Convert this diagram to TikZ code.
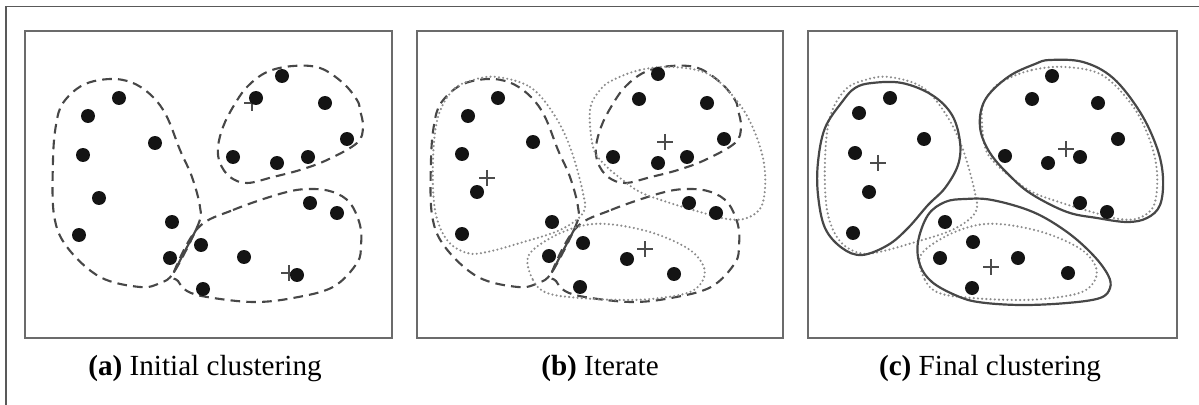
\documentclass[tikz,border=0pt]{standalone}
\usepackage{fontspec}
\setmainfont{Liberation Serif}
\newcommand\ShpAleft[1]{\draw[#1] plot[smooth cycle,tension=0.6] coordinates {(110,79) (133,83) (153,97) (167,117) (180,150) (192,177) (200,207) (198,225) (174,272) (160,283) (140,287) (100,277) (67,247) (54,215) (53,160) (56,125) (63,103) (83,85)};}
\newcommand\ShpAtop[1]{\draw[#1] plot[smooth cycle,tension=0.6] coordinates {(293,66) (320,68) (343,83) (357,100) (360,110) (363,127) (357,143) (327,160) (300,170) (273,177) (247,183) (230,177) (220,163) (218,147) (223,127) (233,107) (247,87) (267,72)};}
\newcommand\ShpAbot[1]{\draw[#1] plot[smooth cycle,tension=0.6] coordinates {(198,228) (233,210) (283,193) (310,189) (333,192) (350,203) (360,225) (361,245) (357,263) (333,287) (293,298) (253,302) (207,297) (187,291) (178,281) (174,272)};}
\newcommand\ShpBleft[1]{\draw[#1] plot[smooth cycle,tension=0.6] coordinates {(497,77) (530,87) (553,113) (570,147) (583,193) (583,213) (560,230) (520,243) (487,252) (467,253) (447,240) (435,210) (433,160) (438,117) (453,90) (473,80)};}
\newcommand\ShpBtop[1]{\draw[#1] plot[smooth cycle,tension=0.6] coordinates {(613,80) (640,70) (673,67) (710,75) (740,105) (757,138) (765,172) (762,205) (747,218) (727,219) (700,212) (667,202) (640,192) (620,178) (603,163) (593,147) (590,110) (600,90)};}
\newcommand\ShpBbot[1]{\draw[#1] plot[smooth cycle,tension=0.6] coordinates {(528,257) (533,280) (547,293) (580,298) (627,300) (660,298) (690,292) (703,280) (703,265) (687,248) (650,232) (607,224) (577,227) (547,240)};}
\begin{document}
\begin{tikzpicture}[x=0.02cm,y=-0.02cm,
  frameline/.style={draw=black!65,line width=0.9pt},
  panelbox/.style={draw=black!58,line width=1.4pt},
  olddash/.style={draw=black!72,line width=1.2pt,dash pattern=on 5.5pt off 3.5pt},
  newdot/.style={draw=black!45,line width=1.35pt,line cap=round,dash pattern=on 0pt off 2.4pt},
  finalline/.style={draw=black!72,line width=1.25pt},
  seg/.style={draw=black!72,line width=1.2pt},
  dot/.style={circle,fill=black!92,inner sep=0pt,minimum size=0.28cm},
  centstyle/.style={draw=black!70,line width=0.7pt},
  cent/.pic={\draw[centstyle] (-8,0)--(8,0) (0,-8)--(0,8);},
  caption/.style={anchor=base,font=\fontsize{16.6}{20}\selectfont,inner sep=0pt}]
\useasboundingbox (0,0) rectangle (1199,405);
% outer frame lines
\coordinate (ftl) at (6,6.5);
\coordinate (ftr) at (1199,6.5);
\coordinate (fbl) at (6,405);
\draw[frameline] (ftr) -- (ftl) -- (fbl);
% panel boxes
\draw[panelbox] (25,31) rectangle (392,338);
\draw[panelbox] (417,31) rectangle (783,338);
\draw[panelbox] (808,31) rectangle (1177,338);
% ---------- panel (a)
\ShpAleft{olddash}
\ShpAtop{olddash}
\ShpAbot{olddash}
\coordinate (sa1) at (198,226);
\coordinate (sa2) at (174,272);
\draw[seg] (sa1) -- (sa2);
\pic at (252,103) {cent};
\pic at (289,273) {cent};
\foreach \px/\py [count=\i] in {119/98,88/116,155/143,83/155,99/198,79/235,172/222,170/258,282/76,256/98,325/103,347/139,233/157,277/163,308/157,310/203,337/213,201/245,244/257,297/275,203/289}
  \node[dot] (a\i) at (\px,\py) {};
% ---------- panel (b)
\begin{scope}[shift={(378,0)}]
\ShpAleft{olddash}
\ShpAtop{olddash}
\ShpAbot{olddash}
\coordinate (sb1) at (198,226);
\coordinate (sb2) at (174,272);
\draw[seg] (sb1) -- (sb2);
\end{scope}
\ShpBleft{newdot}
\ShpBtop{newdot}
\ShpBbot{newdot}
\pic at (487,178) {cent};
\pic at (645,249) {cent};
\pic at (665,142) {cent};
\foreach \px/\py [count=\i] in {498/98,468/116,533/142,462/154,477/192,462/234,552/222,549/256,583/243,580/287,627/259,674/274,658/74,639/99,707/103,724/139,613/157,658/163,687/157,689/203,716/213}
  \node[dot] (b\i) at (\px,\py) {};
% ---------- panel (c)
\begin{scope}[shift={(392,0)}]
\ShpBleft{newdot}
\ShpBtop{newdot}
\ShpBbot{newdot}
\end{scope}
\draw[finalline] plot[smooth cycle,tension=0.6] coordinates {(872,83) (902,83) (932,95) (952,115) (960,142) (958,165) (945,188) (928,205) (908,228) (888,245) (862,255) (842,248) (825,228) (818,195) (818,162) (825,128) (842,102) (855,88)};
\draw[finalline] plot[smooth cycle,tension=0.6] coordinates {(1050,60) (1083,62) (1113,78) (1140,112) (1157,148) (1163,178) (1160,205) (1147,218) (1127,222) (1097,218) (1067,212) (1033,195) (1012,178) (990,153) (980,127) (985,100) (1008,77) (1035,64)};
\draw[finalline] plot[smooth cycle,tension=0.6] coordinates {(945,202) (965,199) (992,200) (1033,212) (1067,232) (1093,255) (1108,275) (1110,288) (1100,298) (1067,303) (1020,305) (978,302) (955,295) (932,282) (920,265) (918,242) (928,215)};
\pic at (878,163) {cent};
\pic at (991,267) {cent};
\pic at (1066,149) {cent};
\foreach \px/\py [count=\i] in {890/98,859/113,924/139,855/153,869/192,853/233,945/222,940/258,973/242,972/288,1018/258,1068/273,1052/76,1032/99,1098/103,1118/139,1005/156,1048/163,1080/157,1080/203,1107/212}
  \node[dot] (c\i) at (\px,\py) {};
% captions
\node[caption] (capa) at (205,375) {\textbf{(a)} Initial clustering};
\node[caption] (capb) at (600,375) {\textbf{(b)} Iterate};
\node[caption] (capc) at (990,375) {\textbf{(c)} Final clustering};
\end{tikzpicture}
\end{document}
